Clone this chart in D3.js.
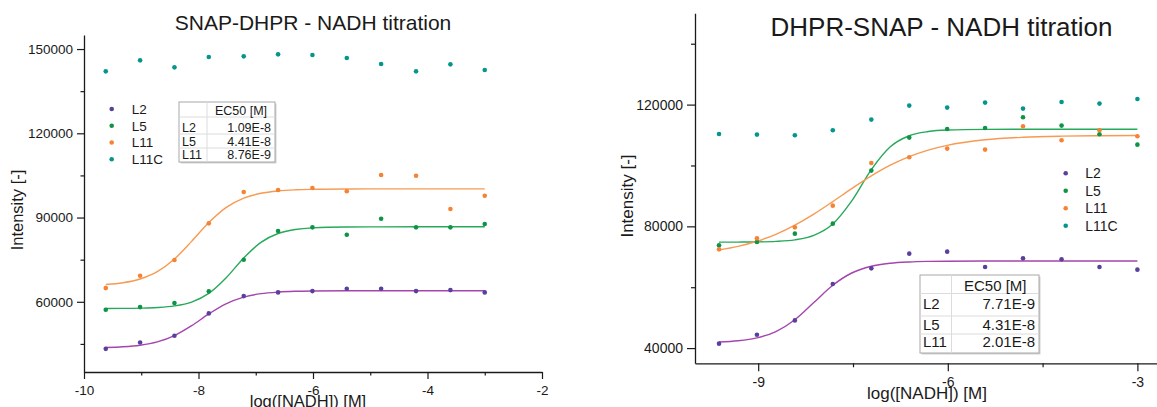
<!DOCTYPE html>
<html>
<head>
<meta charset="utf-8">
<script src="https://cdn.jsdelivr.net/npm/d3@7"></script>
<style>
  body { margin: 0; background: #fff; }
  svg text { font-family: "Liberation Sans", Arial, sans-serif; fill: #1a1a1a; }
</style>
</head>
<body>
<div id="charts"></div>
<script>

// log([NADH]) positions of the measured points (same for both titrations)
var xValues = [-9.62, -9.02, -8.42, -7.82, -7.21, -6.61, -6.01, -5.41, -4.81, -4.20, -3.60, -3.00];

var fitX = [-9.62, -9.32, -9.02, -8.72, -8.42, -8.12, -7.82, -7.52, -7.21, -6.91, -6.61,
  -6.31, -6.01, -5.41, -4.81, -4.20, -3.60, -3.00];

var seriesNames = ["L2", "L5", "L11", "L11C"];
var dotColors = ["#5b3f9d", "#0d9445", "#f58235", "#04968c"];
var lineColors = ["#a446ad", "#27a95a", "#f79a52"];

// SNAP-DHPR measured intensities
var snapL2 = [43250, 45530, 47890, 55870, 62030, 63350, 63810, 64630, 64630, 63810, 64170, 63350];
var snapL5 = [57150, 58110, 59540, 63710, 74960, 85190, 86510, 83870, 89570, 86510, 86510, 87690];
var snapL11 = [64880, 69260, 74860, 87930, 99090, 99800, 100510, 99340, 105140, 104890, 93030, 97770];
var snapL11C = [142050, 145970, 143480, 147150, 147400, 148110, 147860, 146790, 144660, 142050, 144550, 142520];

// SNAP-DHPR fitted curves
var snapFitL2 = [43710, 43970, 44540, 45730, 47980, 51500, 55680, 59270, 61660, 62890, 63470,
  63740, 63860, 63940, 63950, 63950, 63950, 63950];
var snapFitL5 = [57620, 57650, 57740, 57960, 58530, 59910, 62980, 68480, 75600, 81170, 84310,
  85740, 86330, 86640, 86690, 86700, 86700, 86700];
var snapFitL11 = [66150, 66790, 68130, 70730, 75230, 81520, 88210, 93530, 96900, 98630, 99470,
  99870, 100050, 100180, 100200, 100200, 100200, 100200];

// DHPR-SNAP measured intensities
var dhprL2 = [41450, 44400, 49100, 61040, 66200, 71030, 71690, 66620, 69480, 69160, 66620, 65770];
var dhprL5 = [73750, 74840, 77600, 80890, 98310, 109160, 111980, 112310, 115830, 113100, 110240, 106850];
var dhprL11 = [72440, 76060, 79670, 86800, 100810, 102680, 105540, 105210, 112870, 108270, 111550, 109580];
var dhprL11C = [110340, 110140, 109910, 111550, 115070, 119670, 119010, 120660, 118690, 120850, 120330, 121840];

// DHPR-SNAP fitted curves
var dhprFitL2 = [41990, 42400, 43360, 45430, 49320, 54950, 60640, 64670, 66900, 67880, 68300,
  68480, 68550, 68590, 68600, 68600, 68600, 68600];
var dhprFitL5 = [74810, 74830, 74880, 75050, 75560, 77000, 80740, 88340, 98660, 106150, 109770,
  111160, 111660, 111870, 111900, 111900, 111900, 111900];
var dhprFitL11 = [72230, 73410, 75090, 77380, 80390, 84020, 88140, 92410, 96590, 100100, 102910,
  105060, 106610, 108430, 109260, 109630, 109780, 109850];

// EC50 tables
var ec50Labels = ["L2", "L5", "L11"];
var snapEC50 = ["1.09E-8", "4.41E-8", "8.76E-9"];
var dhprEC50 = ["7.71E-9", "4.31E-8", "2.01E-8"];

// axis ticks
var snapXMajor = [-10, -8, -6, -4, -2];
var snapXMinor = [-9, -7, -5, -3];
var snapYMajor = [60000, 90000, 120000, 150000];
var snapYMinor = [45000, 75000, 105000, 135000];
var dhprXMajor = [-9, -6, -3];
var dhprXMinor = [-7.5, -4.5];
var dhprYMajor = [40000, 80000, 120000];
var dhprYMinor = [60000, 100000, 140000];

var width = 1157;
var height = 407;
var dotRadius = 2.3;

// plain hyphen for negative numbers, like the original plot
var tickFmt = function(d) { return String(d); };

var svg = d3.select("#charts")
  .append("svg")
  .attr("width", width)
  .attr("height", height);

function styleAxis(g, fontSize) {
    g.select(".domain").attr("stroke", "#1a1a1a").attr("stroke-width", 1.3);
    g.selectAll(".tick line").attr("stroke", "#1a1a1a").attr("stroke-width", 1.2);
    g.selectAll(".tick text")
      .style("font-size", fontSize + "px")
      .attr("fill", "#1a1a1a");
}

function drawTable(g, t, values) {
    var w = t.x1 - t.x0;
    var h = t.y1 - t.y0;

    g.append("rect")
      .attr("x", t.x0 + 1.5).attr("y", t.y0 + 1.5)
      .attr("width", w).attr("height", h)
      .attr("fill", "#d2d2d2");
    g.append("rect")
      .attr("x", t.x0).attr("y", t.y0)
      .attr("width", w).attr("height", h)
      .attr("fill", "#fff")
      .attr("stroke", "#a8a8a8")
      .attr("stroke-width", 1);

    g.append("line")
      .attr("x1", t.divX).attr("x2", t.divX)
      .attr("y1", t.y0).attr("y2", t.y1)
      .attr("stroke", "#dcdcdc");

    t.rowLines.forEach(function(y) {
        g.append("line")
          .attr("x1", t.x0).attr("x2", t.x1)
          .attr("y1", y).attr("y2", y)
          .attr("stroke", "#dcdcdc");
    });

    g.append("text")
      .attr("x", (t.divX + t.x1) / 2)
      .attr("y", t.headerY)
      .attr("text-anchor", "middle")
      .style("font-size", t.size + "px")
      .text("EC50 [M]");

    ec50Labels.forEach(function(label, i) {
        g.append("text")
          .attr("x", t.x0 + 3)
          .attr("y", t.rowY[i])
          .style("font-size", t.size + "px")
          .text(label);
        g.append("text")
          .attr("x", t.x1 - 4)
          .attr("y", t.rowY[i])
          .attr("text-anchor", "end")
          .style("font-size", t.size + "px")
          .text(values[i]);
    });
}

function drawChart(c) {
    var g = svg.append("g");

    var x = d3.scaleLinear().domain(c.xDomain).range(c.xRange);
    var y = d3.scaleLinear().domain(c.yDomain).range(c.yRange);

    // title
    g.append("text")
      .attr("x", c.titleX)
      .attr("y", c.titleY)
      .attr("text-anchor", "middle")
      .style("font-size", c.titleSize + "px")
      .text(c.title);

    // minor ticks first, then the labelled axis on top
    var yMinor = g.append("g")
      .attr("transform", "translate(" + c.xRange[0] + ",0)")
      .call(d3.axisLeft(y).tickValues(c.yMinor).tickSize(c.minorTick).tickFormat(""));
    yMinor.select(".domain").remove();
    styleAxis(yMinor, c.tickFont);

    var yAxis = g.append("g")
      .attr("transform", "translate(" + c.xRange[0] + ",0)")
      .call(d3.axisLeft(y).tickValues(c.yMajor).tickSize(c.majorTick)
        .tickSizeOuter(0).tickPadding(c.yPad).tickFormat(tickFmt));
    styleAxis(yAxis, c.tickFont);

    var xMinor = g.append("g")
      .attr("transform", "translate(0," + c.yRange[0] + ")")
      .call(d3.axisBottom(x).tickValues(c.xMinor).tickSize(c.minorTick).tickFormat(""));
    xMinor.select(".domain").remove();
    styleAxis(xMinor, c.tickFont);

    var xAxis = g.append("g")
      .attr("transform", "translate(0," + c.yRange[0] + ")")
      .call(d3.axisBottom(x).tickValues(c.xMajor).tickSize(c.majorTick)
        .tickSizeOuter(0).tickPadding(c.xPad).tickFormat(tickFmt));
    styleAxis(xAxis, c.tickFont);

    // axis titles
    g.append("text")
      .attr("transform", "translate(" + c.yTitleX + "," + c.yTitleY + ") rotate(-90)")
      .attr("text-anchor", "middle")
      .attr("dy", "0.35em")
      .style("font-size", c.axisTitleSize + "px")
      .text("Intensity [-]");

    g.append("text")
      .attr("x", c.xTitleX)
      .attr("y", c.xTitleY)
      .attr("text-anchor", "middle")
      .style("font-size", c.axisTitleSize + "px")
      .text("log([NADH]) [M]");

    // fitted curves
    var line = d3.line()
      .x(function(d, i) { return x(fitX[i]); })
      .y(function(d) { return y(d); })
      .curve(d3.curveMonotoneX);

    c.fits.forEach(function(fit, k) {
        g.append("path")
          .datum(fit)
          .attr("d", line)
          .attr("fill", "none")
          .attr("stroke", lineColors[k])
          .attr("stroke-width", 1.4);
    });

    // measured points
    c.points.forEach(function(series, k) {
        g.append("g")
          .selectAll("circle")
          .data(series)
          .enter().append("circle")
          .attr("cx", function(d, i) { return x(xValues[i]); })
          .attr("cy", function(d) { return y(d); })
          .attr("r", dotRadius)
          .attr("fill", dotColors[k]);
    });

    // legend
    seriesNames.forEach(function(name, i) {
        var ly = c.legend.y + i * c.legend.step;
        g.append("circle")
          .attr("cx", c.legend.x)
          .attr("cy", ly)
          .attr("r", dotRadius)
          .attr("fill", dotColors[i]);
        g.append("text")
          .attr("x", c.legend.x + c.legend.gap)
          .attr("y", ly)
          .attr("dy", "0.36em")
          .style("font-size", c.legend.size + "px")
          .text(name);
    });

    drawTable(g, c.table, c.ec50);
}

drawChart({
    title: "SNAP-DHPR - NADH titration",
    titleX: 313, titleY: 30, titleSize: 21,
    xDomain: [-10, -2], xRange: [84, 542],
    yDomain: [35000, 155000], yRange: [372, 35],
    xMajor: snapXMajor, xMinor: snapXMinor,
    yMajor: snapYMajor, yMinor: snapYMinor,
    majorTick: 7, minorTick: 3.5, xPad: 6, yPad: 4,
    tickFont: 13.5,
    yTitleX: 17.5, yTitleY: 210,
    xTitleX: 308, xTitleY: 407,
    axisTitleSize: 16.5,
    points: [snapL2, snapL5, snapL11, snapL11C],
    fits: [snapFitL2, snapFitL5, snapFitL11],
    legend: { x: 111.7, y: 109, step: 16.75, gap: 20, size: 13.5 },
    table: { x0: 179, x1: 275, y0: 102, y1: 162, divX: 207,
             rowLines: [117, 134, 148], headerY: 114.5, rowY: [131.5, 145.5, 158.5], size: 12.5 },
    ec50: snapEC50
});

drawChart({
    title: "DHPR-SNAP - NADH titration",
    titleX: 941.5, titleY: 36, titleSize: 26,
    xDomain: [-10, -2.5], xRange: [695, 1169],
    yDomain: [35000, 150000], yRange: [363.3, 13.3],
    xMajor: dhprXMajor, xMinor: dhprXMinor,
    yMajor: dhprYMajor, yMinor: dhprYMinor,
    majorTick: 8, minorTick: 4, xPad: 6, yPad: 4,
    tickFont: 14,
    yTitleX: 627, yTitleY: 196,
    xTitleX: 927, xTitleY: 399,
    axisTitleSize: 17,
    points: [dhprL2, dhprL5, dhprL11, dhprL11C],
    fits: [dhprFitL2, dhprFitL5, dhprFitL11],
    legend: { x: 1065.7, y: 173.3, step: 17.5, gap: 19.5, size: 14 },
    table: { x0: 920, x1: 1039, y0: 275, y1: 353, divX: 951.5,
             rowLines: [293.5, 316, 334], headerY: 291, rowY: [308.5, 330, 347], size: 15 },
    ec50: dhprEC50
});

</script>
</body>
</html>
